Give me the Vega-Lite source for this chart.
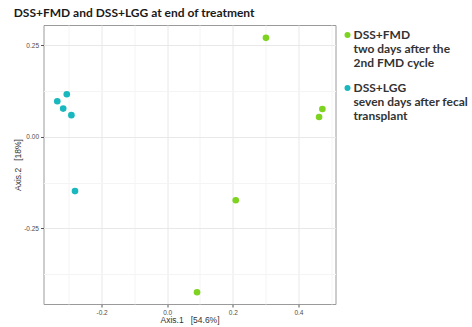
{
  "$schema": "https://vega.github.io/schema/vega-lite/v6.json",
  "width": 292,
  "height": 279,
  "autosize": {"type": "none"},
  "padding": {"left": 43.5, "top": 25, "right": 136.5, "bottom": 23},
  "background": "white",
  "title": {
    "text": "DSS+FMD and DSS+LGG at end of treatment",
    "anchor": "start",
    "font": "Lato",
    "fontSize": 12,
    "fontWeight": "bold",
    "color": "#1a1a1a",
    "offset": 5
  },
  "config": {
    "view": {"stroke": "#9a9a9a", "strokeWidth": 1},
    "axis": {
      "labelFont": "Liberation Sans",
      "labelFontSize": 6.5,
      "labelColor": "#4d4d4d",
      "titleFont": "Liberation Sans",
      "titleFontSize": 8.5,
      "titleFontWeight": "normal",
      "titleColor": "#333333",
      "domain": false,
      "tickSize": 3,
      "tickColor": "#555555",
      "labelPadding": 2
    }
  },
  "data": {
    "values": [
      {"axis1": 0.301, "axis2": 0.270, "group": "DSS+FMD"},
      {"axis1": 0.473, "axis2": 0.076, "group": "DSS+FMD"},
      {"axis1": 0.463, "axis2": 0.054, "group": "DSS+FMD"},
      {"axis1": 0.209, "axis2": -0.173, "group": "DSS+FMD"},
      {"axis1": 0.091, "axis2": -0.424, "group": "DSS+FMD"},
      {"axis1": -0.306, "axis2": 0.116, "group": "DSS+LGG"},
      {"axis1": -0.335, "axis2": 0.097, "group": "DSS+LGG"},
      {"axis1": -0.317, "axis2": 0.077, "group": "DSS+LGG"},
      {"axis1": -0.292, "axis2": 0.059, "group": "DSS+LGG"},
      {"axis1": -0.281, "axis2": -0.148, "group": "DSS+LGG"}
    ]
  },
  "mark": {"type": "circle", "size": 44, "opacity": 1},
  "encoding": {
    "x": {
      "field": "axis1",
      "type": "quantitative",
      "scale": {"domain": [-0.377, 0.513], "nice": false, "zero": false},
      "axis": {
        "title": "Axis.1\u00a0\u00a0\u00a0[54.6%]",
        "values": [-0.3, -0.2, -0.1, 0, 0.1, 0.2, 0.3, 0.4, 0.5],
        "labelExpr": "abs(round(datum.value * 10)) % 2 == 1 ? '' : replace(format(datum.value, '.1f'), '\u2212', '-')",
        "gridColor": {"condition": {"test": "abs(round(datum.value * 10)) % 2 == 1", "value": "#f4f4f4"}, "value": "#e8e8e8"},
        "tickOpacity": {"condition": {"test": "abs(round(datum.value * 10)) % 2 == 1", "value": 0}, "value": 1},
        "titlePadding": 0
      }
    },
    "y": {
      "field": "axis2",
      "type": "quantitative",
      "scale": {"domain": [-0.456, 0.305], "nice": false, "zero": false},
      "axis": {
        "title": "Axis.2\u00a0\u00a0\u00a0[18%]",
        "values": [-0.375, -0.25, -0.125, 0, 0.125, 0.25],
        "labelExpr": "abs(round(datum.value * 8)) % 2 == 1 ? '' : replace(format(datum.value, '.2f'), '\u2212', '-')",
        "gridColor": {"condition": {"test": "abs(round(datum.value * 8)) % 2 == 1", "value": "#f4f4f4"}, "value": "#e8e8e8"},
        "tickOpacity": {"condition": {"test": "abs(round(datum.value * 8)) % 2 == 1", "value": 0}, "value": 1},
        "titlePadding": 1
      }
    },
    "color": {
      "field": "group",
      "type": "nominal",
      "scale": {"domain": ["DSS+FMD", "DSS+LGG"], "range": ["#7ed321", "#19b8be"]},
      "legend": {
        "title": null,
        "orient": "right",
        "offset": 2,
        "symbolType": "circle",
        "symbolSize": 36,
        "symbolOpacity": 1,
        "labelFont": "Lato",
        "labelFontSize": 12,
        "labelFontWeight": "bold",
        "labelColor": "#333333",
        "labelLimit": 200,
        "labelOffset": 0,
        "labelExpr": "datum.label == 'DSS+FMD' ? ['DSS+FMD', '\u2002two days after the', '\u20022nd FMD cycle'] : ['DSS+LGG', '\u2002seven days after fecal', '\u2002transplant']",
        "rowPadding": 13,
        "padding": 4
      }
    }
  }
}
